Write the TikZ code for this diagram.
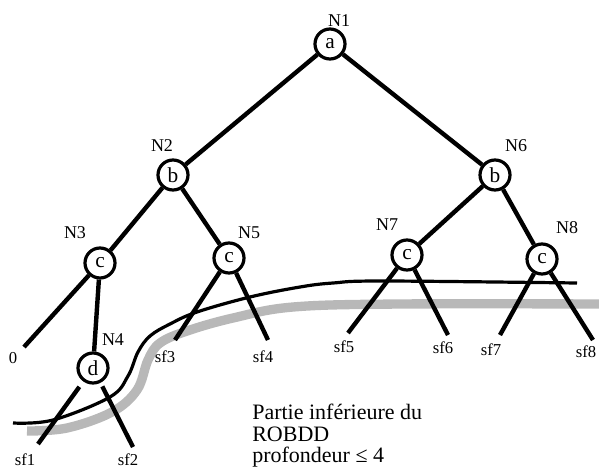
\documentclass[tikz,border=0pt]{standalone}
\usepackage{fontspec}
\setmainfont{Liberation Serif}
\usetikzlibrary{positioning}

\begin{document}
\begin{tikzpicture}[
    x=0.75pt, y=-0.75pt,
    vnode/.style={circle, draw, line width=2.4pt, minimum size=22.5pt,
                  inner sep=0pt, fill=white, font=\fontsize{16}{16}\selectfont},
    edge/.style={line width=3.3pt},
    nlab/.style={font=\fontsize{13.5}{14}\selectfont},
    leaf/.style={font=\fontsize{12.5}{13}\selectfont},
    cut/.style={line width=2.4pt},
    band/.style={line width=7pt, black!28},
  ]
  \useasboundingbox (0,0) rectangle (599,471);

  % shaded band and cut line
  \draw[band] plot[smooth, tension=0.6] coordinates
    {(27,431) (67,428) (112,412) (137,390) (148,360) (160,343)
     (187,331) (233,318) (293,307) (400,304) (605,304)};
  \draw[cut] plot[smooth, tension=0.6] coordinates
    {(13,423) (53,420) (110,397) (128,376) (138,352) (150,336)
     (170,324) (197,312) (250,297) (300,287) (333,283) (383,281) (577,283)};

  % nodes
  \node[vnode] (n1) at (330,44) {a};
  \node[vnode] (n2) at (173,175) {b};
  \node[vnode] (n6) at (495,175) {b};
  \node[vnode] (n3) at (100,263) {c};
  \node[vnode] (n5) at (229,258) {c};
  \node[vnode] (n7) at (407,255) {c};
  \node[vnode] (n8) at (542,259) {c};
  \node[vnode] (n4) at (93,368) {d};

  % node names
  \node[nlab] (l1) at (339,21) {N1};
  \node[nlab] (l2) at (162,146) {N2};
  \node[nlab] (l6) at (516,146) {N6};
  \node[nlab] (l3) at (75,233) {N3};
  \node[nlab] (l5) at (249,233) {N5};
  \node[nlab] (l7) at (387,225) {N7};
  \node[nlab] (l8) at (567,228) {N8};
  \node[nlab] (l4) at (113,340) {N4};

  % leaf ends
  \coordinate (e0) at (24,347);
  \coordinate (e1) at (38,444);
  \coordinate (e2) at (133,447);
  \coordinate (e3) at (175,340);
  \coordinate (e4) at (268,340);
  \coordinate (e5) at (348,333);
  \coordinate (e6) at (448,335);
  \coordinate (e7) at (500,335);
  \coordinate (e8) at (593,340);

  \node[leaf] (t0) at (13,358) {0};
  \node[leaf] (t1) at (25,460) {sf1};
  \node[leaf] (t2) at (128,460) {sf2};
  \node[leaf] (t3) at (165,357) {sf3};
  \node[leaf] (t4) at (263,357) {sf4};
  \node[leaf] (t5) at (344,347) {sf5};
  \node[leaf] (t6) at (443,348) {sf6};
  \node[leaf] (t7) at (491,350) {sf7};
  \node[leaf, inner sep=1pt] (t8) at (586,352) {sf8};

  % edges
  \draw[edge] (n1) -- (n2);
  \draw[edge] (n1) -- (n6);
  \draw[edge] (n2) -- (n3);
  \draw[edge] (n2) -- (n5);
  \draw[edge] (n6) -- (n7);
  \draw[edge] (n6) -- (n8);
  \draw[edge] (n3) -- (e0);
  \draw[edge] (n3) -- (n4);
  \draw[edge, shorten <=5pt] (n4) -- (e1);
  \draw[edge, shorten <=3pt] (n4) -- (e2);
  \draw[edge] (n5) -- (e3);
  \draw[edge] (n5) -- (e4);
  \draw[edge] (n7) -- (e5);
  \draw[edge] (n7) -- (e6);
  \draw[edge] (n8) -- (e7);
  \draw[edge] (n8) -- (e8);

  % caption
  \node[anchor=north west, align=left, inner sep=0pt,
        font=\fontsize{16.5}{16}\selectfont] (txt) at (252,404)
    {Partie inférieure du\\ROBDD\\profondeur ≤ 4};

\end{tikzpicture}
\end{document}
